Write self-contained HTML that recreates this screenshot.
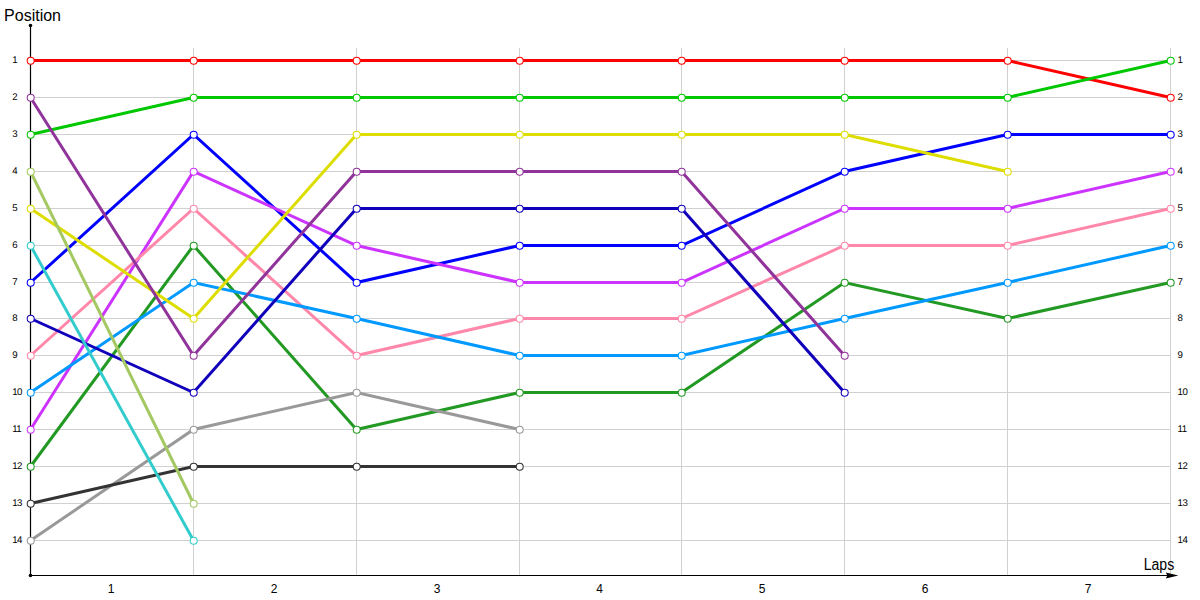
<!DOCTYPE html><html><head><meta charset="utf-8"><style>html,body{margin:0;padding:0;background:#fff;width:1200px;height:600px;overflow:hidden}svg{display:block}text{font-family:"Liberation Sans",sans-serif}.g{text-rendering:geometricPrecision}</style></head><body>
<svg width="1200" height="600" viewBox="0 0 1200 600">
<path d="M30.5 60.5H1170.5M30.5 97.5H1170.5M30.5 134.5H1170.5M30.5 171.5H1170.5M30.5 208.5H1170.5M30.5 245.5H1170.5M30.5 282.5H1170.5M30.5 318.5H1170.5M30.5 355.5H1170.5M30.5 392.5H1170.5M30.5 429.5H1170.5M30.5 466.5H1170.5M30.5 503.5H1170.5M30.5 540.5H1170.5M193.5 48V575M356.5 48V575M519.5 48V575M681.5 48V575M844.5 48V575M1007.5 48V575M1170.5 48V575" stroke="#d0d0d0" stroke-width="1" fill="none"/>
<path d="M30.5 25.5V575.5H1168" stroke="#000" stroke-width="1.2" fill="none"/>
<circle cx="30.5" cy="25.5" r="1.8" fill="#000"/>
<circle cx="30.5" cy="575.5" r="1.8" fill="#000"/>
<path d="M1178.3 575.5L1165.8 572.6L1167.3 575.5L1165.8 578.4Z" fill="#000"/>
<text x="4.1" y="20.7" font-size="16" fill="#000">Position</text>
<text x="1143.7" y="570" font-size="16" textLength="30.5" lengthAdjust="spacingAndGlyphs" fill="#000">Laps</text>
<text x="12.2" y="63.1" font-size="9.7" letter-spacing="-0.5" class="g" fill="#000">1</text>
<text x="1177.5" y="63.1" font-size="9.7" letter-spacing="-0.5" class="g" fill="#000">1</text>
<text x="12.2" y="100.1" font-size="9.7" letter-spacing="-0.5" class="g" fill="#000">2</text>
<text x="1177.5" y="100.1" font-size="9.7" letter-spacing="-0.5" class="g" fill="#000">2</text>
<text x="12.2" y="137.1" font-size="9.7" letter-spacing="-0.5" class="g" fill="#000">3</text>
<text x="1177.5" y="137.1" font-size="9.7" letter-spacing="-0.5" class="g" fill="#000">3</text>
<text x="12.2" y="174.1" font-size="9.7" letter-spacing="-0.5" class="g" fill="#000">4</text>
<text x="1177.5" y="174.1" font-size="9.7" letter-spacing="-0.5" class="g" fill="#000">4</text>
<text x="12.2" y="211.1" font-size="9.7" letter-spacing="-0.5" class="g" fill="#000">5</text>
<text x="1177.5" y="211.1" font-size="9.7" letter-spacing="-0.5" class="g" fill="#000">5</text>
<text x="12.2" y="248.1" font-size="9.7" letter-spacing="-0.5" class="g" fill="#000">6</text>
<text x="1177.5" y="248.1" font-size="9.7" letter-spacing="-0.5" class="g" fill="#000">6</text>
<text x="12.2" y="285.1" font-size="9.7" letter-spacing="-0.5" class="g" fill="#000">7</text>
<text x="1177.5" y="285.1" font-size="9.7" letter-spacing="-0.5" class="g" fill="#000">7</text>
<text x="12.2" y="321.1" font-size="9.7" letter-spacing="-0.5" class="g" fill="#000">8</text>
<text x="1177.5" y="321.1" font-size="9.7" letter-spacing="-0.5" class="g" fill="#000">8</text>
<text x="12.2" y="358.1" font-size="9.7" letter-spacing="-0.5" class="g" fill="#000">9</text>
<text x="1177.5" y="358.1" font-size="9.7" letter-spacing="-0.5" class="g" fill="#000">9</text>
<text x="12.2" y="395.1" font-size="9.7" letter-spacing="-0.5" class="g" fill="#000">10</text>
<text x="1177.5" y="395.1" font-size="9.7" letter-spacing="-0.5" class="g" fill="#000">10</text>
<text x="12.2" y="432.1" font-size="9.7" letter-spacing="-0.5" class="g" fill="#000">11</text>
<text x="1177.5" y="432.1" font-size="9.7" letter-spacing="-0.5" class="g" fill="#000">11</text>
<text x="12.2" y="469.1" font-size="9.7" letter-spacing="-0.5" class="g" fill="#000">12</text>
<text x="1177.5" y="469.1" font-size="9.7" letter-spacing="-0.5" class="g" fill="#000">12</text>
<text x="12.2" y="506.1" font-size="9.7" letter-spacing="-0.5" class="g" fill="#000">13</text>
<text x="1177.5" y="506.1" font-size="9.7" letter-spacing="-0.5" class="g" fill="#000">13</text>
<text x="12.2" y="543.1" font-size="9.7" letter-spacing="-0.5" class="g" fill="#000">14</text>
<text x="1177.5" y="543.1" font-size="9.7" letter-spacing="-0.5" class="g" fill="#000">14</text>
<text x="111.2" y="592.7" font-size="12" text-anchor="middle" fill="#000">1</text>
<text x="274.2" y="592.7" font-size="12" text-anchor="middle" fill="#000">2</text>
<text x="437.2" y="592.7" font-size="12" text-anchor="middle" fill="#000">3</text>
<text x="599.7" y="592.7" font-size="12" text-anchor="middle" fill="#000">4</text>
<text x="762.2" y="592.7" font-size="12" text-anchor="middle" fill="#000">5</text>
<text x="925.2" y="592.7" font-size="12" text-anchor="middle" fill="#000">6</text>
<text x="1088.2" y="592.7" font-size="12" text-anchor="middle" fill="#000">7</text>
<path d="M30.50 60.50 L193.50 60.50 L356.50 60.50 L519.50 60.50 L681.50 60.50 L844.50 60.50 L1007.50 60.50 L1170.50 97.50" stroke="#ff0000" stroke-width="3.0" fill="none" stroke-linejoin="miter"/>
<circle cx="30.70" cy="60.80" r="3.5" fill="#fff" stroke="#ff0000" stroke-width="1.05"/>
<circle cx="193.70" cy="60.80" r="3.5" fill="#fff" stroke="#ff0000" stroke-width="1.05"/>
<circle cx="356.70" cy="60.80" r="3.5" fill="#fff" stroke="#ff0000" stroke-width="1.05"/>
<circle cx="519.70" cy="60.80" r="3.5" fill="#fff" stroke="#ff0000" stroke-width="1.05"/>
<circle cx="681.70" cy="60.80" r="3.5" fill="#fff" stroke="#ff0000" stroke-width="1.05"/>
<circle cx="844.70" cy="60.80" r="3.5" fill="#fff" stroke="#ff0000" stroke-width="1.05"/>
<circle cx="1007.70" cy="60.80" r="3.5" fill="#fff" stroke="#ff0000" stroke-width="1.05"/>
<circle cx="1170.70" cy="97.80" r="3.5" fill="#fff" stroke="#ff0000" stroke-width="1.05"/>
<path d="M30.50 134.50 L193.50 97.50 L356.50 97.50 L519.50 97.50 L681.50 97.50 L844.50 97.50 L1007.50 97.50 L1170.50 60.50" stroke="#00c800" stroke-width="3.0" fill="none" stroke-linejoin="miter"/>
<circle cx="30.70" cy="134.80" r="3.5" fill="#fff" stroke="#00c800" stroke-width="1.05"/>
<circle cx="193.70" cy="97.80" r="3.5" fill="#fff" stroke="#00c800" stroke-width="1.05"/>
<circle cx="356.70" cy="97.80" r="3.5" fill="#fff" stroke="#00c800" stroke-width="1.05"/>
<circle cx="519.70" cy="97.80" r="3.5" fill="#fff" stroke="#00c800" stroke-width="1.05"/>
<circle cx="681.70" cy="97.80" r="3.5" fill="#fff" stroke="#00c800" stroke-width="1.05"/>
<circle cx="844.70" cy="97.80" r="3.5" fill="#fff" stroke="#00c800" stroke-width="1.05"/>
<circle cx="1007.70" cy="97.80" r="3.5" fill="#fff" stroke="#00c800" stroke-width="1.05"/>
<circle cx="1170.70" cy="60.80" r="3.5" fill="#fff" stroke="#00c800" stroke-width="1.05"/>
<path d="M30.50 282.50 L193.50 134.50 L356.50 282.50 L519.50 245.50 L681.50 245.50 L844.50 171.50 L1007.50 134.50 L1170.50 134.50" stroke="#0000ff" stroke-width="3.0" fill="none" stroke-linejoin="miter"/>
<circle cx="30.70" cy="282.80" r="3.5" fill="#fff" stroke="#0000ff" stroke-width="1.05"/>
<circle cx="193.70" cy="134.80" r="3.5" fill="#fff" stroke="#0000ff" stroke-width="1.05"/>
<circle cx="356.70" cy="282.80" r="3.5" fill="#fff" stroke="#0000ff" stroke-width="1.05"/>
<circle cx="519.70" cy="245.80" r="3.5" fill="#fff" stroke="#0000ff" stroke-width="1.05"/>
<circle cx="681.70" cy="245.80" r="3.5" fill="#fff" stroke="#0000ff" stroke-width="1.05"/>
<circle cx="844.70" cy="171.80" r="3.5" fill="#fff" stroke="#0000ff" stroke-width="1.05"/>
<circle cx="1007.70" cy="134.80" r="3.5" fill="#fff" stroke="#0000ff" stroke-width="1.05"/>
<circle cx="1170.70" cy="134.80" r="3.5" fill="#fff" stroke="#0000ff" stroke-width="1.05"/>
<path d="M30.50 429.50 L193.50 171.50 L356.50 245.50 L519.50 282.50 L681.50 282.50 L844.50 208.50 L1007.50 208.50 L1170.50 171.50" stroke="#cc33ff" stroke-width="3.0" fill="none" stroke-linejoin="miter"/>
<circle cx="30.70" cy="429.80" r="3.5" fill="#fff" stroke="#cc33ff" stroke-width="1.05"/>
<circle cx="193.70" cy="171.80" r="3.5" fill="#fff" stroke="#cc33ff" stroke-width="1.05"/>
<circle cx="356.70" cy="245.80" r="3.5" fill="#fff" stroke="#cc33ff" stroke-width="1.05"/>
<circle cx="519.70" cy="282.80" r="3.5" fill="#fff" stroke="#cc33ff" stroke-width="1.05"/>
<circle cx="681.70" cy="282.80" r="3.5" fill="#fff" stroke="#cc33ff" stroke-width="1.05"/>
<circle cx="844.70" cy="208.80" r="3.5" fill="#fff" stroke="#cc33ff" stroke-width="1.05"/>
<circle cx="1007.70" cy="208.80" r="3.5" fill="#fff" stroke="#cc33ff" stroke-width="1.05"/>
<circle cx="1170.70" cy="171.80" r="3.5" fill="#fff" stroke="#cc33ff" stroke-width="1.05"/>
<path d="M30.50 355.50 L193.50 208.50 L356.50 355.50 L519.50 318.50 L681.50 318.50 L844.50 245.50 L1007.50 245.50 L1170.50 208.50" stroke="#ff88aa" stroke-width="3.0" fill="none" stroke-linejoin="miter"/>
<circle cx="30.70" cy="355.80" r="3.5" fill="#fff" stroke="#ff88aa" stroke-width="1.05"/>
<circle cx="193.70" cy="208.80" r="3.5" fill="#fff" stroke="#ff88aa" stroke-width="1.05"/>
<circle cx="356.70" cy="355.80" r="3.5" fill="#fff" stroke="#ff88aa" stroke-width="1.05"/>
<circle cx="519.70" cy="318.80" r="3.5" fill="#fff" stroke="#ff88aa" stroke-width="1.05"/>
<circle cx="681.70" cy="318.80" r="3.5" fill="#fff" stroke="#ff88aa" stroke-width="1.05"/>
<circle cx="844.70" cy="245.80" r="3.5" fill="#fff" stroke="#ff88aa" stroke-width="1.05"/>
<circle cx="1007.70" cy="245.80" r="3.5" fill="#fff" stroke="#ff88aa" stroke-width="1.05"/>
<circle cx="1170.70" cy="208.80" r="3.5" fill="#fff" stroke="#ff88aa" stroke-width="1.05"/>
<path d="M30.50 466.50 L193.50 245.50 L356.50 429.50 L519.50 392.50 L681.50 392.50 L844.50 282.50 L1007.50 318.50 L1170.50 282.50" stroke="#229922" stroke-width="3.0" fill="none" stroke-linejoin="miter"/>
<circle cx="30.70" cy="466.80" r="3.5" fill="#fff" stroke="#229922" stroke-width="1.05"/>
<circle cx="193.70" cy="245.80" r="3.5" fill="#fff" stroke="#229922" stroke-width="1.05"/>
<circle cx="356.70" cy="429.80" r="3.5" fill="#fff" stroke="#229922" stroke-width="1.05"/>
<circle cx="519.70" cy="392.80" r="3.5" fill="#fff" stroke="#229922" stroke-width="1.05"/>
<circle cx="681.70" cy="392.80" r="3.5" fill="#fff" stroke="#229922" stroke-width="1.05"/>
<circle cx="844.70" cy="282.80" r="3.5" fill="#fff" stroke="#229922" stroke-width="1.05"/>
<circle cx="1007.70" cy="318.80" r="3.5" fill="#fff" stroke="#229922" stroke-width="1.05"/>
<circle cx="1170.70" cy="282.80" r="3.5" fill="#fff" stroke="#229922" stroke-width="1.05"/>
<path d="M30.50 392.50 L193.50 282.50 L356.50 318.50 L519.50 355.50 L681.50 355.50 L844.50 318.50 L1007.50 282.50 L1170.50 245.50" stroke="#0099ff" stroke-width="3.0" fill="none" stroke-linejoin="miter"/>
<circle cx="30.70" cy="392.80" r="3.5" fill="#fff" stroke="#0099ff" stroke-width="1.05"/>
<circle cx="193.70" cy="282.80" r="3.5" fill="#fff" stroke="#0099ff" stroke-width="1.05"/>
<circle cx="356.70" cy="318.80" r="3.5" fill="#fff" stroke="#0099ff" stroke-width="1.05"/>
<circle cx="519.70" cy="355.80" r="3.5" fill="#fff" stroke="#0099ff" stroke-width="1.05"/>
<circle cx="681.70" cy="355.80" r="3.5" fill="#fff" stroke="#0099ff" stroke-width="1.05"/>
<circle cx="844.70" cy="318.80" r="3.5" fill="#fff" stroke="#0099ff" stroke-width="1.05"/>
<circle cx="1007.70" cy="282.80" r="3.5" fill="#fff" stroke="#0099ff" stroke-width="1.05"/>
<circle cx="1170.70" cy="245.80" r="3.5" fill="#fff" stroke="#0099ff" stroke-width="1.05"/>
<path d="M30.50 208.50 L193.50 318.50 L356.50 134.50 L519.50 134.50 L681.50 134.50 L844.50 134.50 L1007.50 171.50" stroke="#dddd00" stroke-width="3.0" fill="none" stroke-linejoin="miter"/>
<circle cx="30.70" cy="208.80" r="3.5" fill="#fff" stroke="#dddd00" stroke-width="1.05"/>
<circle cx="193.70" cy="318.80" r="3.5" fill="#fff" stroke="#dddd00" stroke-width="1.05"/>
<circle cx="356.70" cy="134.80" r="3.5" fill="#fff" stroke="#dddd00" stroke-width="1.05"/>
<circle cx="519.70" cy="134.80" r="3.5" fill="#fff" stroke="#dddd00" stroke-width="1.05"/>
<circle cx="681.70" cy="134.80" r="3.5" fill="#fff" stroke="#dddd00" stroke-width="1.05"/>
<circle cx="844.70" cy="134.80" r="3.5" fill="#fff" stroke="#dddd00" stroke-width="1.05"/>
<circle cx="1007.70" cy="171.80" r="3.5" fill="#fff" stroke="#dddd00" stroke-width="1.05"/>
<path d="M30.50 97.50 L193.50 355.50 L356.50 171.50 L519.50 171.50 L681.50 171.50 L844.50 355.50" stroke="#90339a" stroke-width="3.0" fill="none" stroke-linejoin="miter"/>
<circle cx="30.70" cy="97.80" r="3.5" fill="#fff" stroke="#90339a" stroke-width="1.05"/>
<circle cx="193.70" cy="355.80" r="3.5" fill="#fff" stroke="#90339a" stroke-width="1.05"/>
<circle cx="356.70" cy="171.80" r="3.5" fill="#fff" stroke="#90339a" stroke-width="1.05"/>
<circle cx="519.70" cy="171.80" r="3.5" fill="#fff" stroke="#90339a" stroke-width="1.05"/>
<circle cx="681.70" cy="171.80" r="3.5" fill="#fff" stroke="#90339a" stroke-width="1.05"/>
<circle cx="844.70" cy="355.80" r="3.5" fill="#fff" stroke="#90339a" stroke-width="1.05"/>
<path d="M30.50 318.50 L193.50 392.50 L356.50 208.50 L519.50 208.50 L681.50 208.50 L844.50 392.50" stroke="#1100bb" stroke-width="3.0" fill="none" stroke-linejoin="miter"/>
<circle cx="30.70" cy="318.80" r="3.5" fill="#fff" stroke="#1100bb" stroke-width="1.05"/>
<circle cx="193.70" cy="392.80" r="3.5" fill="#fff" stroke="#1100bb" stroke-width="1.05"/>
<circle cx="356.70" cy="208.80" r="3.5" fill="#fff" stroke="#1100bb" stroke-width="1.05"/>
<circle cx="519.70" cy="208.80" r="3.5" fill="#fff" stroke="#1100bb" stroke-width="1.05"/>
<circle cx="681.70" cy="208.80" r="3.5" fill="#fff" stroke="#1100bb" stroke-width="1.05"/>
<circle cx="844.70" cy="392.80" r="3.5" fill="#fff" stroke="#1100bb" stroke-width="1.05"/>
<path d="M30.50 540.50 L193.50 429.50 L356.50 392.50 L519.50 429.50" stroke="#999999" stroke-width="3.0" fill="none" stroke-linejoin="miter"/>
<circle cx="30.70" cy="540.80" r="3.5" fill="#fff" stroke="#999999" stroke-width="1.05"/>
<circle cx="193.70" cy="429.80" r="3.5" fill="#fff" stroke="#999999" stroke-width="1.05"/>
<circle cx="356.70" cy="392.80" r="3.5" fill="#fff" stroke="#999999" stroke-width="1.05"/>
<circle cx="519.70" cy="429.80" r="3.5" fill="#fff" stroke="#999999" stroke-width="1.05"/>
<path d="M30.50 503.50 L193.50 466.50 L356.50 466.50 L519.50 466.50" stroke="#333333" stroke-width="3.0" fill="none" stroke-linejoin="miter"/>
<circle cx="30.70" cy="503.80" r="3.5" fill="#fff" stroke="#333333" stroke-width="1.05"/>
<circle cx="193.70" cy="466.80" r="3.5" fill="#fff" stroke="#333333" stroke-width="1.05"/>
<circle cx="356.70" cy="466.80" r="3.5" fill="#fff" stroke="#333333" stroke-width="1.05"/>
<circle cx="519.70" cy="466.80" r="3.5" fill="#fff" stroke="#333333" stroke-width="1.05"/>
<path d="M30.50 171.50 L193.50 503.50" stroke="#a4c862" stroke-width="3.0" fill="none" stroke-linejoin="miter"/>
<circle cx="30.70" cy="171.80" r="3.5" fill="#fff" stroke="#a4c862" stroke-width="1.05"/>
<circle cx="193.70" cy="503.80" r="3.5" fill="#fff" stroke="#a4c862" stroke-width="1.05"/>
<path d="M30.50 245.50 L193.50 540.50" stroke="#33cccc" stroke-width="3.0" fill="none" stroke-linejoin="miter"/>
<circle cx="30.70" cy="245.80" r="3.5" fill="#fff" stroke="#33cccc" stroke-width="1.05"/>
<circle cx="193.70" cy="540.80" r="3.5" fill="#fff" stroke="#33cccc" stroke-width="1.05"/>
</svg></body></html>
